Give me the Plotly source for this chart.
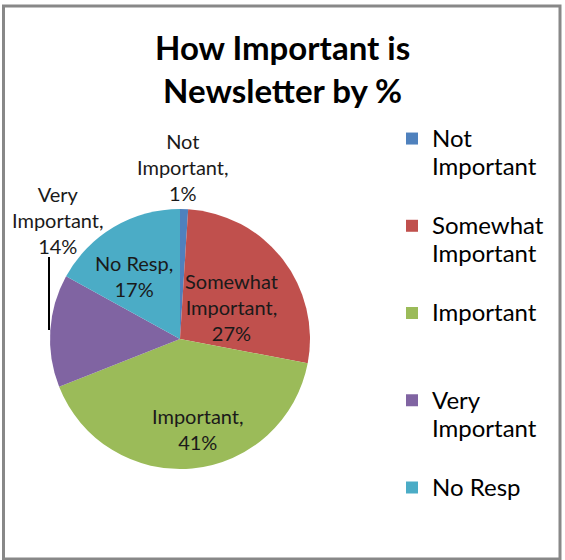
import plotly.graph_objects as go

categories = ["Not Important", "Somewhat Important", "Important", "Very Important", "No Resp"]
values = [1, 27, 41, 14, 17]
legend_lines = [["Not", "Important", "\u00a0"], ["Somewhat", "Important", "\u00a0"],
                ["Important", "\u00a0", "\u00a0"], ["Very", "Important", "\u00a0"], ["No Resp"]]
colors = ["#4F81BD", "#C0504D", "#9BBB59", "#8064A2", "#4BACC6"]
data_labels = ["Not<br>Important,<br>1%", "Somewhat<br>Important,<br>27%", "Important,<br>41%",
               "Very<br>Important,<br>14%", "No Resp,<br>17%"]
label_pos = [(183, 167), (231, 307), (198, 429), (58, 220), (134, 276)]

W, H = 565, 560
cx, cy, r = 180, 339, 130

legend_names = ["<br>".join("<span style='font-size:24px'>%s</span>" % ln for ln in lines)
                for lines in legend_lines]

fig = go.Figure(go.Pie(
    labels=legend_names,
    values=values,
    sort=False,
    direction="clockwise",
    rotation=0,
    marker=dict(colors=colors, line=dict(width=0)),
    textinfo="none",
    hoverinfo="none",
    domain=dict(x=[(cx - r) / W, (cx + r) / W], y=[1 - (cy + r) / H, 1 - (cy - r) / H]),
))

for txt, (x, y) in zip(data_labels, label_pos):
    fig.add_annotation(x=x / W, y=1 - y / H, xref="paper", yref="paper", text=txt,
                       showarrow=False, xanchor="center", yanchor="middle", align="center",
                       font=dict(family="Lato", size=20, color="#1a1a1a"))

fig.add_annotation(x=282 / W, y=1 - 68 / H, xref="paper", yref="paper",
                   text="<b>How Important is<br>Newsletter by %</b>", showarrow=False,
                   xanchor="center", yanchor="middle", align="center",
                   font=dict(family="Lato", size=33, color="#000000"))

# leader line for the Very Important label
fig.add_shape(type="line", xref="paper", yref="paper",
              x0=49 / W, x1=49 / W, y0=1 - 257 / H, y1=1 - 330 / H,
              line=dict(color="#000000", width=2))
# chart border
fig.add_shape(type="rect", xref="paper", yref="paper",
              x0=3.5 / W, x1=560 / W, y0=1 - 6 / H, y1=1 - 559 / H,
              line=dict(color="#888888", width=3))

fig.update_layout(
    width=W, height=H,
    margin=dict(l=0, r=0, t=0, b=0),
    paper_bgcolor="white",
    plot_bgcolor="white",
    showlegend=True,
    legend=dict(x=392 / W, y=1 - 118 / H, xanchor="left", yanchor="top",
                valign="top", font=dict(family="Lato", size=21.6, color="#000000"),
                bgcolor="rgba(0,0,0,0)", traceorder="normal"),
)

fig.write_html("out.html", config={"displayModeBar": False},
               post_script="document.body.style.margin='0';"
                           "document.documentElement.style.overflow='hidden';")
